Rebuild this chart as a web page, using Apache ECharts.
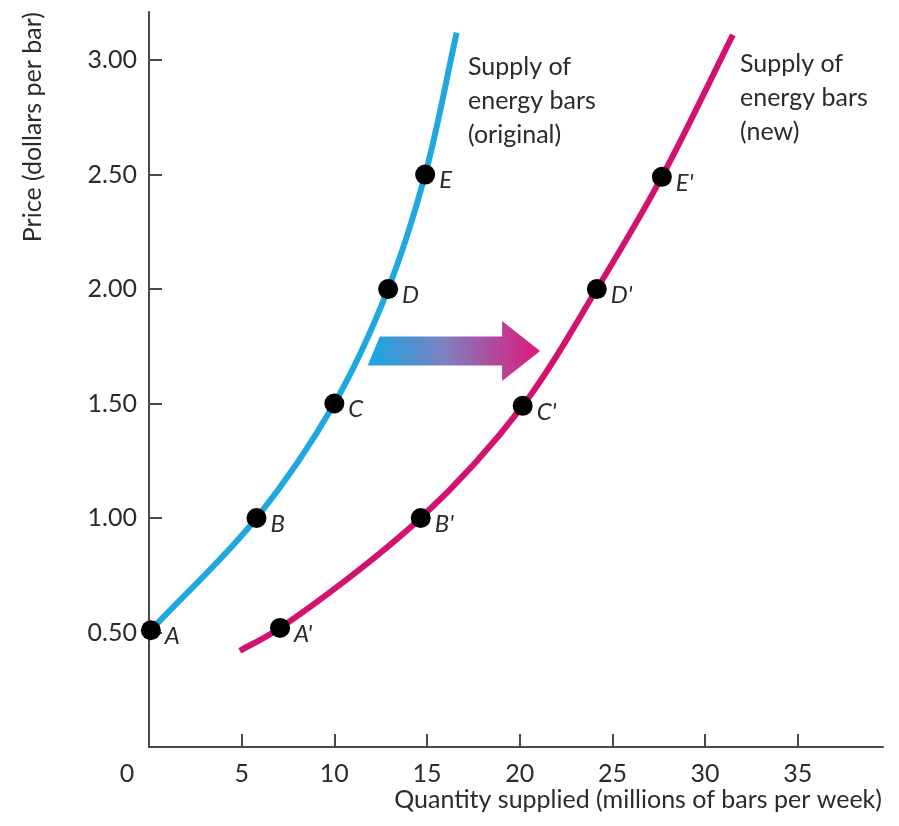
<!DOCTYPE html>
<html>
<head>
<meta charset="utf-8">
<script src="https://cdn.jsdelivr.net/npm/echarts@6/dist/echarts.min.js"></script>
<style>
html,body{margin:0;padding:0;background:#fff;}
#chart{width:899px;height:826px;}
</style>
</head>
<body>
<div id="chart"></div>
<script>
// ---- data ----
const xMax = 39.6;
const yMax = 3.21;
const xTickValues = [5, 10, 15, 20, 25, 30, 35];
const xLabelValues = [0, 5, 10, 15, 20, 25, 30, 35];
const yTickValues = [0.5, 1.0, 1.5, 2.0, 2.5, 3.0];

// labelled points
const origNames = ['A', 'B', 'C', 'D', 'E'];
const origQty = [0.1, 5.8, 10, 12.9, 14.9];
const origPrice = [0.51, 1.0, 1.5, 2.0, 2.5];

const newNames = ["A'", "B'", "C'", "D'", "E'"];
const newQty = [7.07, 14.66, 20.16, 24.16, 27.67];
const newPrice = [0.52, 1.0, 1.49, 2.0, 2.49];

// curve ends
const origCurveEnd = [16.6, 3.12];
const newCurveStart = [4.9, 0.42];
const newCurveEnd = [31.5, 3.11];

// shift arrow (from quantity, to quantity, at price)
const shiftArrow = [11.8, 21.1, 1.73];

const origLabel = ['Supply of', 'energy bars', '(original)'];
const newLabel = ['Supply of', 'energy bars', '(new)'];
const xTitle = 'Quantity supplied (millions of bars per week)';
const yTitle = 'Price (dollars per bar)';

// ---- build ----
const FONT = 'Lato';
const TXT = '#2b2b2b';
const AXIS = '#4a4a4a';
const BLUE = '#1ea8df';
const PINK = '#d3126f';

const origLine = origQty.map((q, i) => [q, origPrice[i]]).concat([origCurveEnd]);
const newLine = [newCurveStart].concat(newQty.map((q, i) => [q, newPrice[i]])).concat([newCurveEnd]);
const origPts = origQty.map((q, i) => ({ name: origNames[i], value: [q, origPrice[i]] }));
const newPts = newQty.map((q, i) => ({ name: newNames[i], value: [q, newPrice[i]] }));

// centripetal Catmull-Rom path through pixel points
function splinePath(pts) {
  const n = pts.length;
  const P = [[2 * pts[0][0] - pts[1][0], 2 * pts[0][1] - pts[1][1]]]
    .concat(pts)
    .concat([[2 * pts[n - 1][0] - pts[n - 2][0], 2 * pts[n - 1][1] - pts[n - 2][1]]]);
  const dist = (a, b) => Math.pow(Math.hypot(b[0] - a[0], b[1] - a[1]), 0.5);
  let d = 'M' + pts[0][0] + ' ' + pts[0][1];
  for (let i = 1; i < P.length - 2; i++) {
    const p0 = P[i - 1], p1 = P[i], p2 = P[i + 1], p3 = P[i + 2];
    const d1 = dist(p0, p1), d2 = dist(p1, p2), d3 = dist(p2, p3);
    const c1 = [0, 1].map(k => (d1 * d1 * p2[k] - d2 * d2 * p0[k] + (2 * d1 * d1 + 3 * d1 * d2 + d2 * d2) * p1[k]) / (3 * d1 * (d1 + d2)));
    const c2 = [0, 1].map(k => (d3 * d3 * p1[k] - d2 * d2 * p3[k] + (2 * d3 * d3 + 3 * d3 * d2 + d2 * d2) * p2[k]) / (3 * d3 * (d3 + d2)));
    d += ' C' + c1[0] + ' ' + c1[1] + ' ' + c2[0] + ' ' + c2[1] + ' ' + p2[0] + ' ' + p2[1];
  }
  return d;
}

function curveSeries(data, color) {
  return {
    type: 'custom',
    z: 2,
    clip: true,
    data: data,
    encode: { x: 0, y: 1 },
    renderItem: function (params, api) {
      if (params.dataIndex !== 0) return null;
      const px = data.map(p => api.coord(p));
      return {
        type: 'path',
        shape: { pathData: splinePath(px) },
        style: { fill: 'none', stroke: color, lineWidth: 6 }
      };
    }
  };
}

const chart = echarts.init(document.getElementById('chart'), null, { renderer: 'canvas' });

const pointLabel = {
  show: true,
  position: 'right',
  distance: 4,
  offset: [0, 6],
  formatter: p => p.name,
  fontFamily: FONT,
  fontStyle: 'italic',
  fontSize: 24,
  color: TXT
};

chart.setOption({
  animation: false,
  backgroundColor: '#fff',
  grid: { left: 149, right: 16, top: 12, bottom: 79, containLabel: false },
  xAxis: {
    type: 'value', min: 0, max: xMax,
    axisLine: { show: true, onZero: false, lineStyle: { color: AXIS, width: 2 } },
    axisTick: { show: true, inside: true, length: 13, customValues: xTickValues, lineStyle: { color: AXIS, width: 2 } },
    splitLine: { show: false },
    axisLabel: {
      margin: 14, fontFamily: FONT, fontSize: 25, color: TXT,
      customValues: xLabelValues,
      formatter: v => v === 0 ? '{z|0}' : String(v),
      rich: { z: { fontFamily: FONT, fontSize: 25, color: TXT, padding: [0, 44, 0, 0] } }
    }
  },
  yAxis: {
    type: 'value', min: 0, max: yMax,
    axisLine: { show: true, onZero: false, lineStyle: { color: AXIS, width: 2 } },
    axisTick: { show: true, inside: true, length: 13, customValues: yTickValues, lineStyle: { color: AXIS, width: 2 } },
    splitLine: { show: false },
    axisLabel: {
      margin: 12, fontFamily: FONT, fontSize: 25, color: TXT,
      customValues: yTickValues,
      formatter: v => v.toFixed(2)
    }
  },
  series: [
    {
      type: 'custom',
      z: 1,
      data: [shiftArrow],
      encode: { x: [0, 1], y: 2 },
      renderItem: function (params, api) {
        const a = api.coord([api.value(0), api.value(2)]);
        const b = api.coord([api.value(1), api.value(2)]);
        const h = 14.5, hh = 30, hl = 38, slant = 12;
        const x0 = a[0], x1 = b[0], y = a[1];
        const xb = x1 - hl;
        return {
          type: 'polygon',
          shape: {
            points: [
              [x0 + slant, y - h], [xb, y - h], [xb, y - hh], [x1, y],
              [xb, y + hh], [xb, y + h], [x0, y + h]
            ]
          },
          style: {
            fill: new echarts.graphic.LinearGradient(0, 0, 1, 0, [
              { offset: 0, color: '#16a8e2' },
              { offset: 0.45, color: '#7f7fc0' },
              { offset: 1, color: '#e0187a' }
            ])
          }
        };
      }
    },
    curveSeries(origLine, BLUE),
    curveSeries(newLine, PINK),
    {
      type: 'scatter', data: origPts, symbolSize: 20, z: 3,
      itemStyle: { color: '#000', opacity: 1 }, label: pointLabel
    },
    {
      type: 'scatter', data: newPts, symbolSize: 20, z: 3,
      itemStyle: { color: '#000', opacity: 1 }, label: pointLabel
    }
  ],
  graphic: [
    {
      type: 'text', left: 468, top: 50,
      style: { text: origLabel.join('\n'), fontFamily: FONT, fontSize: 25, lineHeight: 34, fill: TXT }
    },
    {
      type: 'text', left: 740, top: 47,
      style: { text: newLabel.join('\n'), fontFamily: FONT, fontSize: 25, lineHeight: 34, fill: TXT }
    },
    {
      type: 'text', x: 882, y: 812,
      style: { text: xTitle, fontFamily: FONT, fontSize: 25, fill: TXT, align: 'right', verticalAlign: 'bottom' }
    },
    {
      type: 'text', x: 33, y: 12, rotation: Math.PI / 2,
      style: { text: yTitle, fontFamily: FONT, fontSize: 25, fill: TXT, align: 'right', verticalAlign: 'middle' }
    }
  ]
});
</script>
</body>
</html>
